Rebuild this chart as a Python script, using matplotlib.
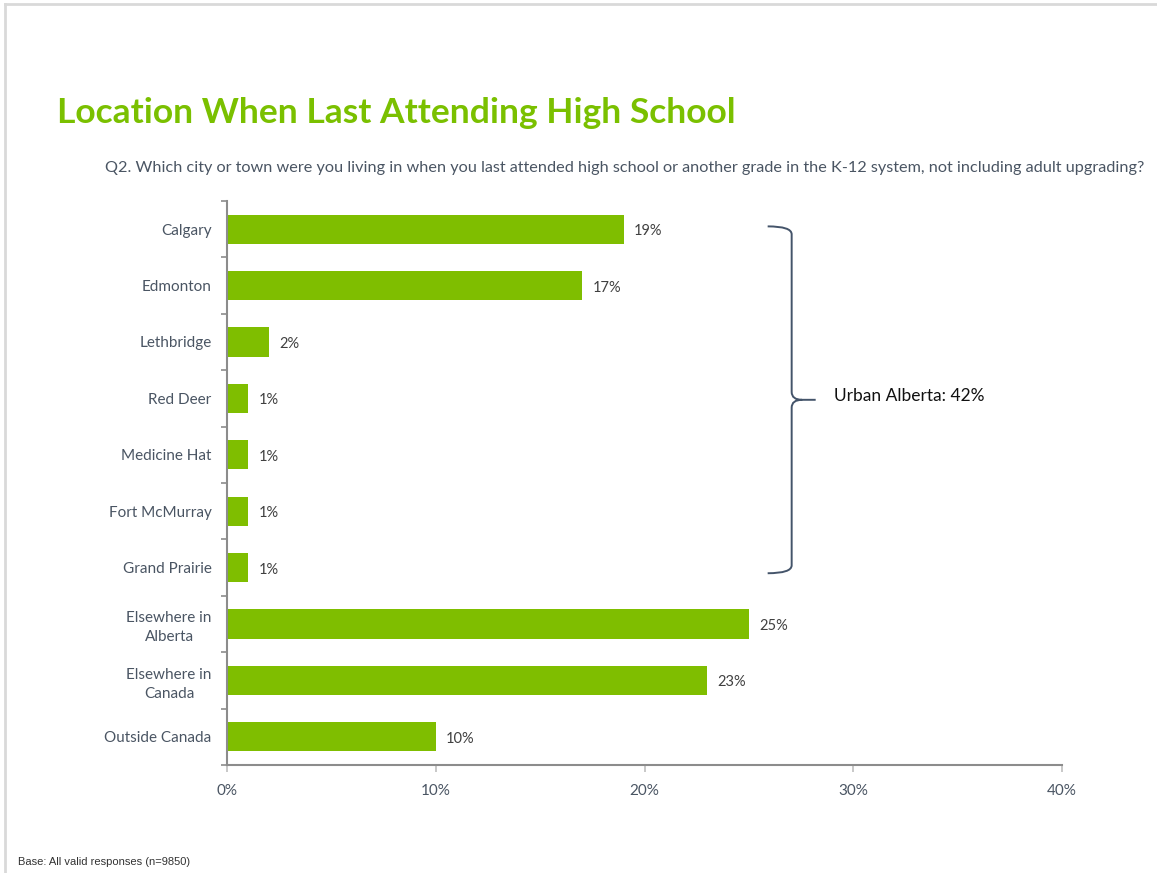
import matplotlib
matplotlib.use("Agg")
import matplotlib.pyplot as plt
from matplotlib.path import Path
from matplotlib.patches import PathPatch
import numpy as np

categories = ["Calgary", "Edmonton", "Lethbridge", "Red Deer", "Medicine Hat",
              "Fort McMurray", "Grand Prairie", "Elsewhere in\nAlberta",
              "Elsewhere in\nCanada", "Outside Canada"]
values = [19, 17, 2, 1, 1, 1, 1, 25, 23, 10]
xticks = [0, 10, 20, 30, 40]
xtick_labels = ["0%", "10%", "20%", "30%", "40%"]
title = "Location When Last Attending High School"
subtitle = ("Q2. Which city or town were you living in when you last attended high school "
            "or another grade in the K-12 system, not including adult upgrading?")
footnote = "Base: All valid responses (n=9850)"
bracket_label = "Urban Alberta: 42%"

GREEN = "#7fbe00"
TEXT = "#4a5563"
AXIS = "#8c8c8c"
FONT = "Lato"

fig = plt.figure(figsize=(11.57, 8.73), dpi=100)
W, H = 1157, 873

# slide frame
fig.add_artist(plt.Line2D([5 / W, 5 / W], [0, 1 - 4 / H], transform=fig.transFigure,
                          color="#d9d9d9", lw=2))
fig.add_artist(plt.Line2D([5 / W, 1], [1 - 4 / H, 1 - 4 / H], transform=fig.transFigure,
                          color="#d9d9d9", lw=2))

ax = fig.add_axes([227 / W, 1 - 765 / H, (1062 - 227) / W, (765 - 201) / H])
y = np.arange(len(categories))
ax.barh(y, values, height=0.52, color=GREEN)
ax.set_xlim(0, 40)
ax.set_ylim(len(categories) - 0.5, -0.5)

for yi, v in zip(y, values):
    ax.annotate(f"{v}%", (v, yi), xytext=(7.5, -1.5), textcoords="offset points",
                va="center", ha="left", fontsize=10.5, color="#404040", family=FONT)

for s in ["top", "right"]:
    ax.spines[s].set_visible(False)
for s in ["left", "bottom"]:
    ax.spines[s].set_color(AXIS)
    ax.spines[s].set_linewidth(1.5)

ax.set_yticks(y)
ax.set_yticklabels(categories, fontsize=11, color=TEXT, family=FONT)
for lbl in ax.get_yticklabels():
    lbl.set_multialignment("center")
    lbl.set_linespacing(1.45)
ax.set_yticks(np.arange(-0.5, len(categories) + 0.5, 1), minor=True)
ax.tick_params(axis="y", which="major", length=0, pad=11)
ax.tick_params(axis="y", which="minor", length=4, width=1.2, color=AXIS, direction="out")
ax.set_xticks(xticks)
ax.set_xticklabels(xtick_labels, fontsize=11, color=TEXT, family=FONT)
ax.tick_params(axis="x", length=5, width=1.2, color="#bfbfbf", direction="out", pad=9)

# brace
x0, x1, xt = 25.9, 27.05, 28.2
yt, yb = -0.05, 6.1
ym = (yt + yb) / 2
d = 0.14
verts = [(x0, yt), (x1, yt), (x1, yt + d),
         (x1, ym - d),
         (x1, ym), (x1 + 0.5, ym),
         (xt, ym),
         (x1 + 0.5, ym), (x1, ym), (x1, ym + d),
         (x1, yb - d),
         (x1, yb), (x0, yb)]
codes = [Path.MOVETO, Path.CURVE3, Path.CURVE3,
         Path.LINETO,
         Path.CURVE3, Path.CURVE3,
         Path.LINETO,
         Path.MOVETO, Path.CURVE3, Path.CURVE3,
         Path.LINETO,
         Path.CURVE3, Path.CURVE3]
ax.add_patch(PathPatch(Path(verts, codes), fill=False, edgecolor="#44546a", lw=1.4,
                       clip_on=False))
ax.text(29.1, ym - 0.06, bracket_label, va="center", ha="left", fontsize=12.5,
        color="#111111", family=FONT)

fig.text(57 / W, 1 - 113 / H, title, fontsize=25.5, fontweight="bold", color="#7ac000",
         family=FONT, va="center", ha="left")
fig.text(105 / W, 1 - 168 / H, subtitle, fontsize=11.7, color=TEXT, family=FONT,
         va="center", ha="left")
fig.text(18 / W, 1 - 862 / H, footnote, fontsize=8, color="#333333",
         family="Liberation Sans", va="center", ha="left")

fig.savefig("out.png", dpi=100)
